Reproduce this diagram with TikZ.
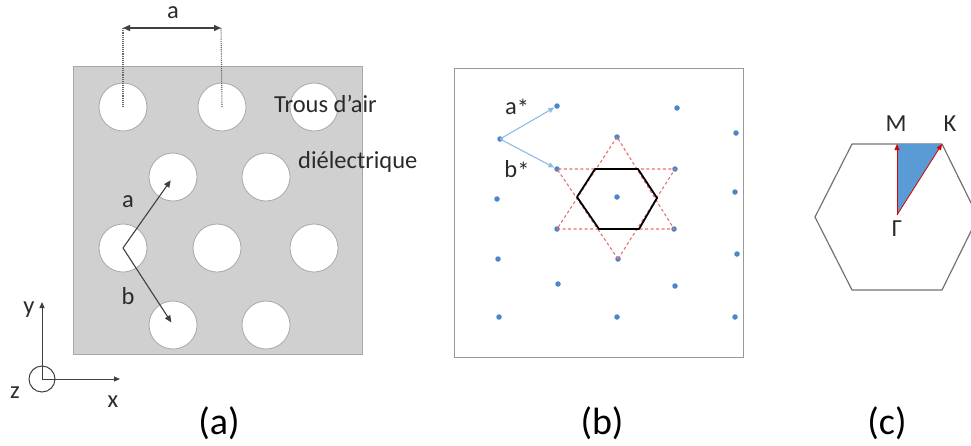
\documentclass[tikz,border=0pt]{standalone}
\usepackage{fontspec}
\setmainfont{Carlito}
\usetikzlibrary{arrows.meta}
\definecolor{plate}{HTML}{D0D0D0}
\definecolor{plateedge}{HTML}{A8A8A8}
\definecolor{txt}{HTML}{2A2A2A}
\definecolor{dotblue}{HTML}{4A86C8}
\definecolor{lightblue}{HTML}{8FBCE6}
\definecolor{reddash}{HTML}{E87070}
\definecolor{triblue}{HTML}{5B9BD5}
\tikzset{
  hole/.style={circle, minimum size=48pt, inner sep=0pt, fill=white, draw=plateedge, line width=0.8pt},
  lbl/.style={text=txt, font=\fontsize{24.5}{26}\selectfont, inner sep=0pt},
  panelcap/.style={text=black, font=\fontsize{38}{40}\selectfont, inner sep=0pt},
  vec/.style={draw=black!75, line width=1.1pt, -{Triangle[length=7pt,width=6pt]}},
  rdot/.style={circle, fill=dotblue, minimum size=5.5pt, inner sep=0pt},
  bvec/.style={draw=lightblue, line width=1.1pt, -{Triangle[length=6pt,width=5pt]}},
  star/.style={draw=reddash, line width=1.1pt, dash pattern=on 3pt off 2.5pt},
  rvec/.style={draw=red!85!black, line width=0.8pt, -{Triangle[length=6pt,width=5pt]}},
}
\begin{document}
\begin{tikzpicture}[x=1pt,y=-1pt]
\useasboundingbox (0,0) rectangle (971,445);
% ---------- panel (a)
\node[draw=plateedge, fill=plate, line width=0.8pt, minimum width=289pt, minimum height=288pt, inner sep=0pt] (platebox) at (217.5,210) {};
\foreach \n/\x/\y in {h11/123/107, h12/222/107, h13/314/107, h21/173/177, h22/266/177, h31/123/248, h32/217/248, h33/314/248, h41/173/325, h42/266/325}
  \node[hole] (\n) at (\x,\y) {};
\coordinate (dimL) at (123,28);
\coordinate (dimR) at (221,28);
\draw[black!60, line width=1.1pt, densely dotted] (h11.center) -- (dimL);
\draw[black!60, line width=1.1pt, densely dotted] (h12.center) -- (dimR);
\draw[black!75, line width=1.4pt, {Triangle[length=7pt,width=6pt]}-{Triangle[length=7pt,width=6pt]}] (dimL) -- (dimR);
\node[lbl] (la) at (173,13) {a};
\draw[vec, shorten >=4pt] (h31.center) -- (h21.center);
\draw[vec, shorten >=3pt] (h31.center) -- (h41.center);
\node[lbl] (lva) at (128,202) {a};
\node[lbl] (lvb) at (128,296) {b};
\node[lbl, anchor=west] (trous) at (274,104) {Trous d’air};
\node[lbl, anchor=west] (diel) at (298,162) {diélectrique};
% axes
\coordinate (O) at (42,379);
\coordinate (Yend) at (42,302);
\coordinate (Xend) at (120,379);
\draw[black!75, line width=1pt, -{Triangle[length=6pt,width=5pt]}] (O) -- (Yend);
\draw[black!75, line width=1pt, -{Triangle[length=6pt,width=5pt]}] (O) -- (Xend);
\draw[black!75, line width=1pt] (O) circle (13pt);
\node[lbl] (ly) at (29,310) {y};
\node[lbl] (lz) at (15,393) {z};
\node[lbl] (lx) at (113,402) {x};
\node[panelcap] (capa) at (219,423) {(a)};
% ---------- panel (b)
\node[draw=black!40, line width=0.9pt, minimum width=289pt, minimum height=289pt, inner sep=0pt] (boxb) at (599,212.5) {};
\foreach \n/\x/\y in {pa1/557/106, pa2/677/108, o/500/139, t/617/137, pb3/736/133, bL/557/169, bR/675/169, pd1/497/199, cc/617/197, pd3/735/192, uL/557/229, uR/674/229, pf1/498/259, bot/618/259, pf3/737/254, pg1/558/284, pg2/675/286, ph1/499/317, ph2/617/317, ph3/735/317}
  \node[rdot] (\n) at (\x,\y) {};
\draw[star] (t.center) -- (uL.center) -- (uR.center) -- cycle;
\draw[star] (bot.center) -- (bL.center) -- (bR.center) -- cycle;
\draw[black, line width=1.8pt, line join=round] (595,169) -- (638,169) -- (657,198) -- (639,229) -- (599,229) -- (577,197) -- cycle;
\draw[bvec, shorten >=3pt] (o.center) -- (pa1.center);
\draw[bvec, shorten >=3pt] (o.center) -- (bL.center);
\node[lbl] (las) at (517,108) {a\raisebox{-2pt}{*}};
\node[lbl] (lbs) at (517,170) {b\raisebox{-2pt}{*}};
\node[panelcap] (capb) at (602,423) {(b)};
% ---------- panel (c)
\draw[black!55, line width=1.2pt, line join=round] (852,144) -- (942,144) -- (978,217) -- (942,290) -- (852,290) -- (815,217) -- cycle;
\coordinate (G) at (897,215);
\coordinate (M) at (897,144);
\coordinate (K) at (942,144);
\fill[triblue] (G) -- (M) -- (K) -- cycle;
\draw[rvec] (G) -- (M);
\draw[rvec] (G) -- (K);
\node[lbl] (lM) at (896,124) {M};
\node[lbl] (lK) at (950,124) {K};
\node[lbl] (lG) at (897,229) {Γ};
\node[panelcap] (capc) at (887,423) {(c)};
\end{tikzpicture}
\end{document}
